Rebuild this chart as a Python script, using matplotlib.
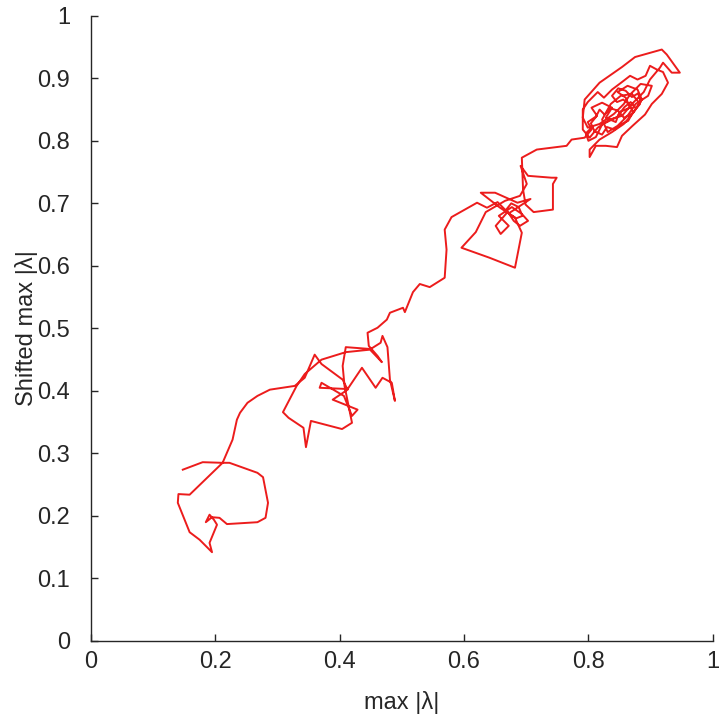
import matplotlib
matplotlib.use("Agg")
import matplotlib.pyplot as plt

plt.rcParams['font.family'] = ['Liberation Sans', 'DejaVu Sans']

# Trajectory: max |lambda| (x) vs shifted max |lambda| (y)
max_lambda = [
    0.148, 0.180, 0.211, 0.223, 0.268, 0.277, 0.285, 0.281, 0.268, 0.219,
    0.207, 0.195, 0.185, 0.191, 0.198, 0.203, 0.191, 0.195, 0.175, 0.159,
    0.140, 0.141, 0.159, 0.212, 0.228, 0.235, 0.240, 0.252, 0.268,
    0.288, 0.328, 0.344, 0.360, 0.371, 0.405, 0.413, 0.389, 0.429, 0.420,
    0.407, 0.371, 0.368, 0.413, 0.436, 0.458, 0.469, 0.484, 0.489, 0.481,
    0.477, 0.469, 0.466, 0.450, 0.410, 0.405, 0.408, 0.420, 0.404, 0.354,
    0.346, 0.342, 0.318, 0.309, 0.331, 0.344, 0.371, 0.410, 0.449, 0.468,
    0.461, 0.447, 0.445, 0.461, 0.476,
    0.481, 0.502, 0.505, 0.518, 0.529, 0.545, 0.569, 0.572, 0.569, 0.580,
    0.621,
    0.637, 0.654, 0.670, 0.651, 0.659, 0.672, 0.656, 0.677, 0.693, 0.703,
    0.690, 0.680, 0.668, 0.676, 0.688, 0.694, 0.684, 0.672,
    0.707, 0.686, 0.650, 0.627, 0.658, 0.682, 0.693, 0.682, 0.641, 0.596,
    0.619, 0.635, 0.666, 0.690, 0.701, 0.691, 0.703, 0.741, 0.749, 0.743,
    0.743, 0.712, 0.699, 0.695, 0.693, 0.717, 0.765, 0.773,
    0.794, 0.805, 0.799, 0.814, 0.805, 0.822, 0.838, 0.828, 0.844, 0.850,
    0.867, 0.860, 0.847, 0.863, 0.879, 0.886, 0.873, 0.857, 0.838, 0.818,
    0.802, 0.802, 0.812, 0.828, 0.846, 0.854, 0.871, 0.891, 0.902, 0.918,
    0.928, 0.920, 0.910, 0.899, 0.892, 0.879, 0.867, 0.854, 0.838, 0.825,
    0.815, 0.799, 0.791, 0.791, 0.802, 0.815, 0.834, 0.854, 0.873, 0.889,
    0.899, 0.915, 0.920, 0.934, 0.947, 0.926, 0.918, 0.875, 0.854, 0.818,
    0.794, 0.791, 0.799, 0.818, 0.841, 0.857, 0.867, 0.884, 0.902, 0.896,
    0.876, 0.863, 0.847, 0.831, 0.822, 0.836, 0.852, 0.870, 0.883, 0.870,
    0.857,
    0.848, 0.836, 0.826, 0.818, 0.812, 0.804, 0.810, 0.822, 0.830, 0.842,
    0.852, 0.864, 0.872, 0.866, 0.856, 0.846, 0.838, 0.848, 0.860, 0.870,
    0.880, 0.884, 0.876, 0.868, 0.858, 0.846, 0.834, 0.822, 0.812, 0.800,
    0.796, 0.806,
]
shifted_max_lambda = [
    0.274, 0.286, 0.285, 0.285, 0.269, 0.262, 0.221, 0.197, 0.190, 0.187,
    0.197, 0.198, 0.190, 0.202, 0.194, 0.186, 0.157, 0.142, 0.162, 0.174,
    0.221, 0.235, 0.234, 0.285, 0.322, 0.354, 0.365, 0.381, 0.392,
    0.402, 0.408, 0.421, 0.458, 0.443, 0.418, 0.402, 0.386, 0.370, 0.360,
    0.392, 0.413, 0.405, 0.403, 0.437, 0.405, 0.421, 0.413, 0.384, 0.418,
    0.470, 0.488, 0.477, 0.467, 0.470, 0.440, 0.408, 0.349, 0.339, 0.352,
    0.310, 0.341, 0.357, 0.366, 0.408, 0.427, 0.450, 0.462, 0.466, 0.446,
    0.456, 0.472, 0.493, 0.501, 0.514,
    0.525, 0.533, 0.526, 0.558, 0.571, 0.566, 0.581, 0.626, 0.658, 0.678,
    0.701,
    0.693, 0.702, 0.686, 0.664, 0.651, 0.664, 0.680, 0.694, 0.683, 0.672,
    0.664, 0.672, 0.690, 0.700, 0.694, 0.680, 0.676, 0.684,
    0.707, 0.701, 0.717, 0.717, 0.693, 0.677, 0.653, 0.597, 0.613, 0.629,
    0.654, 0.686, 0.704, 0.712, 0.731, 0.760, 0.744, 0.741, 0.741, 0.731,
    0.690, 0.686, 0.698, 0.722, 0.773, 0.786, 0.792, 0.802,
    0.805, 0.818, 0.830, 0.840, 0.853, 0.861, 0.853, 0.837, 0.830, 0.846,
    0.853, 0.869, 0.878, 0.888, 0.882, 0.866, 0.846, 0.827, 0.814, 0.802,
    0.786, 0.774, 0.792, 0.792, 0.790, 0.808, 0.824, 0.842, 0.859, 0.875,
    0.893, 0.910, 0.914, 0.920, 0.904, 0.898, 0.904, 0.894, 0.882, 0.869,
    0.878, 0.862, 0.850, 0.818, 0.805, 0.821, 0.834, 0.840, 0.862, 0.878,
    0.898, 0.917, 0.925, 0.909, 0.909, 0.938, 0.946, 0.934, 0.918, 0.893,
    0.866, 0.837, 0.821, 0.827, 0.843, 0.859, 0.874, 0.891, 0.888, 0.872,
    0.859, 0.840, 0.824, 0.814, 0.834, 0.859, 0.872, 0.875, 0.859, 0.843,
    0.837,
    0.848, 0.852, 0.842, 0.850, 0.838, 0.828, 0.815, 0.810, 0.822, 0.818,
    0.826, 0.832, 0.846, 0.858, 0.866, 0.862, 0.872, 0.884, 0.880, 0.870,
    0.876, 0.862, 0.852, 0.862, 0.854, 0.838, 0.832, 0.826, 0.806, 0.800,
    0.812, 0.822,
]

x_ticks = [0, 0.2, 0.4, 0.6, 0.8, 1]
x_tick_labels = ['0', '0.2', '0.4', '0.6', '0.8', '1']
y_ticks = [0, 0.1, 0.2, 0.3, 0.4, 0.5, 0.6, 0.7, 0.8, 0.9, 1]
y_tick_labels = ['0', '0.1', '0.2', '0.3', '0.4', '0.5', '0.6', '0.7', '0.8', '0.9', '1']

fig = plt.figure(figsize=(7.2, 7.17), dpi=100)
ax = fig.add_axes([0.126, 0.106, 0.864, 0.872])

ax.plot(max_lambda, shifted_max_lambda, color='#ec1c1c', linewidth=1.4)

ax.set_xlim(0, 1)
ax.set_ylim(0, 1)
ax.set_xticks(x_ticks)
ax.set_xticklabels(x_tick_labels)
ax.set_yticks(y_ticks)
ax.set_yticklabels(y_tick_labels)

for s in ['top', 'right']:
    ax.spines[s].set_visible(False)
for s in ['left', 'bottom']:
    ax.spines[s].set_linewidth(1.0)
    ax.spines[s].set_color('#262626')

ax.tick_params(direction='in', length=5, width=1.0, colors='#262626',
               labelsize=17)
ax.tick_params(axis='y', pad=15)
ax.tick_params(axis='x', pad=7)

ax.set_xlabel('max |λ|', fontsize=17, color='#262626', labelpad=13)
ax.set_ylabel('Shifted max |λ|', fontsize=17, color='#262626', labelpad=-1)

fig.savefig('out.png', dpi=100)
